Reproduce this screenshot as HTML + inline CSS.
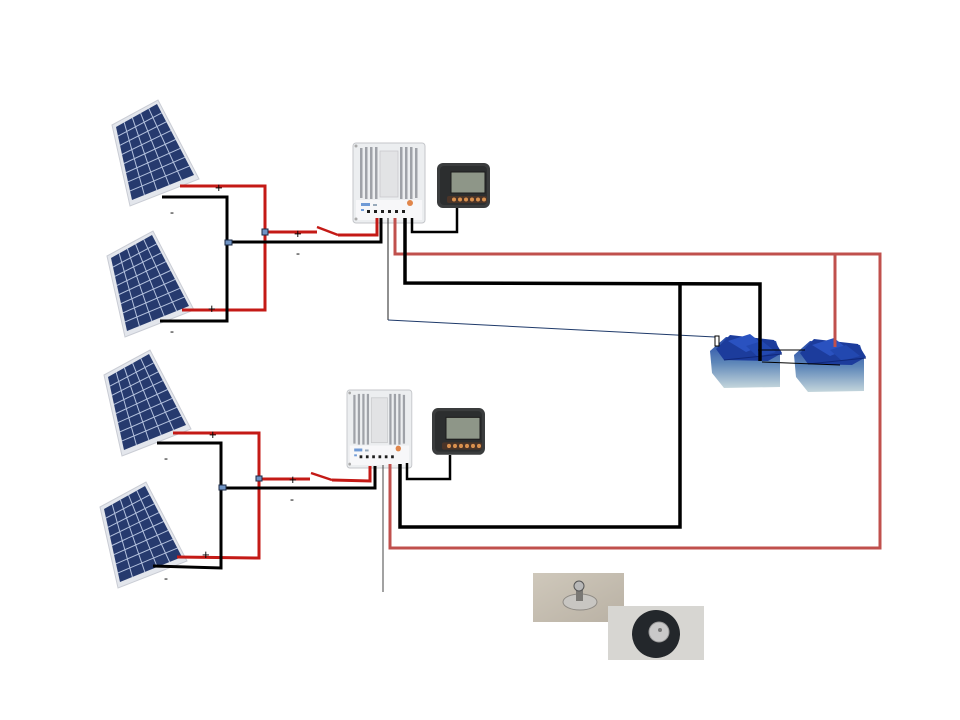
<!DOCTYPE html>
<html><head><meta charset="utf-8"><style>
html,body{margin:0;padding:0;background:#fff;}
svg{display:block;}
text{font-family:"Liberation Sans",sans-serif;fill:#000;}
</style></head><body>
<svg width="960" height="720" viewBox="0 0 960 720" xmlns="http://www.w3.org/2000/svg">
<defs>
  <linearGradient id="batg" x1="0" y1="0" x2="0" y2="1">
    <stop offset="0" stop-color="#2448a8"/>
    <stop offset="0.5" stop-color="#5d86b8"/>
    <stop offset="1" stop-color="#c4d6dc"/>
  </linearGradient>
  <linearGradient id="ph1" x1="0" y1="0" x2="1" y2="1">
    <stop offset="0" stop-color="#cfc8bb"/>
    <stop offset="1" stop-color="#b9b1a4"/>
  </linearGradient>
  <g id="panel">
    <polygon points="112,125 158,100 199,179 130,206" fill="#e3e6ec" stroke="#c9ccd4" stroke-width="1"/>
    <polygon points="116,127 157,104 194,175 132,200" fill="#263a6e"/>
    <g stroke="#b4c2de" stroke-width="1">
      <line x1="124.2" y1="122.4" x2="144.4" y2="195"/>
      <line x1="132.4" y1="117.8" x2="156.8" y2="190"/>
      <line x1="140.6" y1="113.2" x2="169.2" y2="185"/>
      <line x1="148.8" y1="108.6" x2="181.6" y2="180"/>
      <line x1="118" y1="136.1" x2="161.6" y2="112.9"/>
      <line x1="120" y1="145.3" x2="166.3" y2="121.8"/>
      <line x1="122" y1="154.4" x2="170.9" y2="130.6"/>
      <line x1="124" y1="163.5" x2="175.5" y2="139.5"/>
      <line x1="126" y1="172.6" x2="180.1" y2="148.4"/>
      <line x1="128" y1="181.8" x2="184.8" y2="157.3"/>
      <line x1="130" y1="190.9" x2="189.4" y2="166.1"/>
    </g>
  </g>
  <g id="ctrl">
    <rect x="0" y="0" width="72" height="80" rx="3" fill="#eceef0" stroke="#c4c6ca" stroke-width="1"/>
    <g fill="#9fa2a8">
      <rect x="7" y="5" width="2.5" height="50"/>
      <rect x="12" y="4" width="2.5" height="52"/>
      <rect x="17" y="4" width="2.5" height="52"/>
      <rect x="22" y="4" width="2.5" height="52"/>
      <rect x="47" y="4" width="2.5" height="52"/>
      <rect x="52" y="4" width="2.5" height="52"/>
      <rect x="57" y="4" width="2.5" height="52"/>
      <rect x="62" y="5" width="2.5" height="50"/>
    </g>
    <rect x="27" y="8" width="18" height="46" fill="#e2e3e5" stroke="#c8c9cc" stroke-width="0.8"/>
    <rect x="3" y="57" width="66" height="20" fill="#f7f7f9"/>
    <rect x="8" y="60" width="9" height="3" fill="#6f9ad6"/>
    <rect x="20" y="61" width="4" height="2" fill="#9ab"/>
    <circle cx="57" cy="60" r="3" fill="#e0854a"/>
    <g fill="#1e1e1e">
      <rect x="14" y="67" width="3" height="3"/>
      <rect x="21" y="67" width="3" height="3"/>
      <rect x="28" y="67" width="3" height="3"/>
      <rect x="35" y="67" width="3" height="3"/>
      <rect x="42" y="67" width="3" height="3"/>
      <rect x="49" y="67" width="3" height="3"/>
    </g>
    <rect x="8" y="66" width="3" height="2" fill="#6f9ad6"/>
    <circle cx="3" cy="3" r="1.5" fill="#aaa"/>
    <circle cx="3" cy="76" r="1.5" fill="#aaa"/>
  </g>
  <g id="meter">
    <rect x="0" y="0" width="53" height="45" rx="6" fill="#3a3c3d"/>
    <rect x="3" y="3" width="47" height="39" rx="4" fill="#2c2e2f"/>
    <rect x="14" y="9" width="34" height="21" fill="#8e9688" stroke="#1c1c1c" stroke-width="1"/>
    <rect x="10" y="33" width="40" height="7" rx="2" fill="#4a3428"/>
    <g fill="#d8904e">
      <circle cx="17" cy="36.5" r="2"/>
      <circle cx="23" cy="36.5" r="2"/>
      <circle cx="29" cy="36.5" r="2"/>
      <circle cx="35" cy="36.5" r="2"/>
      <circle cx="41" cy="36.5" r="2"/>
      <circle cx="47" cy="36.5" r="2"/>
    </g>
  </g>
  <g id="battery">
    <polygon points="-6,18 10,4 60,8 64,20 64,54 8,55 -4,40" fill="url(#batg)"/>
    <polygon points="0,16 14,2 58,7 66,20 52,28 8,27" fill="#1c3c9c"/>
    <polygon points="12,8 34,1 48,12 30,19" fill="#2a52c0"/>
    <polygon points="30,13 46,8 60,19 42,24" fill="#2248b0"/>
    <line x1="8" y1="27" x2="66" y2="21" stroke="#10287a" stroke-width="1"/>
  </g>
</defs>

<!-- panels -->
<use href="#panel"/>
<use href="#panel" transform="translate(-5,131)"/>
<use href="#panel" transform="translate(-8,250)"/>
<use href="#panel" transform="translate(-12,382)"/>

<!-- controllers & meters -->
<use href="#ctrl" transform="translate(353,143)"/>
<use href="#meter" transform="translate(437,163)"/>
<use href="#ctrl" transform="translate(347,390) scale(0.9,0.975)"/>
<use href="#meter" transform="translate(432,408) scale(1,1.04)"/>

<!-- batteries -->
<use href="#battery" transform="translate(716,333)"/>
<use href="#battery" transform="translate(800,337)"/>

<!-- wires -->
<g fill="none" stroke-linejoin="miter">
  <polyline points="180,186 265,186 265,310 182,310" stroke="#c41a16" stroke-width="3"/>
  <polyline points="162,197 227,197 227,321 160,321" stroke="#000" stroke-width="3"/>
  <polyline points="265,232 317,232" stroke="#c41a16" stroke-width="3"/>
  <line x1="317" y1="227" x2="338" y2="235" stroke="#c41a16" stroke-width="2.5"/>
  <polyline points="338,235 377,235 377,218" stroke="#c41a16" stroke-width="3"/>
  <polyline points="228,242 381,242 381,218" stroke="#000" stroke-width="3"/>

  <polyline points="173,433 259,433 259,558 177,557" stroke="#c41a16" stroke-width="3"/>
  <polyline points="157,443 221,443 221,568 153,566" stroke="#000" stroke-width="3"/>
  <polyline points="259,479 310,479" stroke="#c41a16" stroke-width="3"/>
  <line x1="311" y1="473" x2="332" y2="480" stroke="#c41a16" stroke-width="2.5"/>
  <polyline points="332,480 370,481 370,466" stroke="#c41a16" stroke-width="3"/>
  <polyline points="222,488 375,488 375,466" stroke="#000" stroke-width="3"/>

  <polyline points="388,218 388,320" stroke="#222" stroke-width="1"/>
  <line x1="388" y1="320" x2="715" y2="337" stroke="#1f3a6a" stroke-width="1"/>
  <polyline points="395,218 395,254 880,254 880,548 390,548 390,464" stroke="#c0504d" stroke-width="3"/>
  <line x1="835" y1="254" x2="835" y2="347" stroke="#c0504d" stroke-width="3"/>
  <polyline points="405,218 405,283 760,284 760,361" stroke="#000" stroke-width="3.5"/>
  <polyline points="680,284 680,527 400,527 400,464" stroke="#000" stroke-width="3.5"/>
  <polyline points="412,218 412,232 457,232 457,208" stroke="#000" stroke-width="2.5"/>

  <line x1="383" y1="465" x2="383" y2="592" stroke="#444" stroke-width="1"/>
  <polyline points="407,463 407,479 450,479 450,455" stroke="#000" stroke-width="2.5"/>

  <line x1="758" y1="350" x2="805" y2="350" stroke="#000" stroke-width="1"/>
  <line x1="762" y1="362" x2="840" y2="365" stroke="#000" stroke-width="1"/>
</g>

<rect x="715" y="336" width="4" height="10" fill="#fff" stroke="#000" stroke-width="1"/>

<g fill="#6f93c4" stroke="#1b2a45" stroke-width="1">
  <rect x="225" y="240" width="7" height="5"/>
  <rect x="262" y="229" width="6" height="6"/>
  <rect x="219" y="485" width="7" height="5"/>
  <rect x="256" y="476" width="6" height="5"/>
</g>

<g font-size="13">
  <text x="215" y="192">+</text>
  <text x="208" y="313">+</text>
  <text x="294" y="238">+</text>
  <text x="209" y="439">+</text>
  <text x="202" y="559">+</text>
  <text x="289" y="484">+</text>
</g>
<g font-size="12">
  <text x="170" y="216">-</text>
  <text x="170" y="335">-</text>
  <text x="296" y="257">-</text>
  <text x="164" y="462">-</text>
  <text x="164" y="582">-</text>
  <text x="290" y="503">-</text>
</g>

<rect x="533" y="573" width="91" height="49" fill="url(#ph1)"/>
<ellipse cx="580" cy="602" rx="17" ry="8" fill="#c8c6c2" stroke="#8e8a84" stroke-width="1"/>
<rect x="576" y="589" width="7" height="12" fill="#7a7874"/>
<circle cx="579" cy="586" r="5" fill="#b8b8b8" stroke="#555" stroke-width="1"/>
<rect x="608" y="606" width="96" height="54" fill="#d7d6d2"/>
<circle cx="656" cy="634" r="24" fill="#23272b"/>
<circle cx="659" cy="632" r="10" fill="#c9c9c9" stroke="#999" stroke-width="1"/>
<circle cx="660" cy="630" r="2" fill="#777"/>
</svg>
</body></html>
